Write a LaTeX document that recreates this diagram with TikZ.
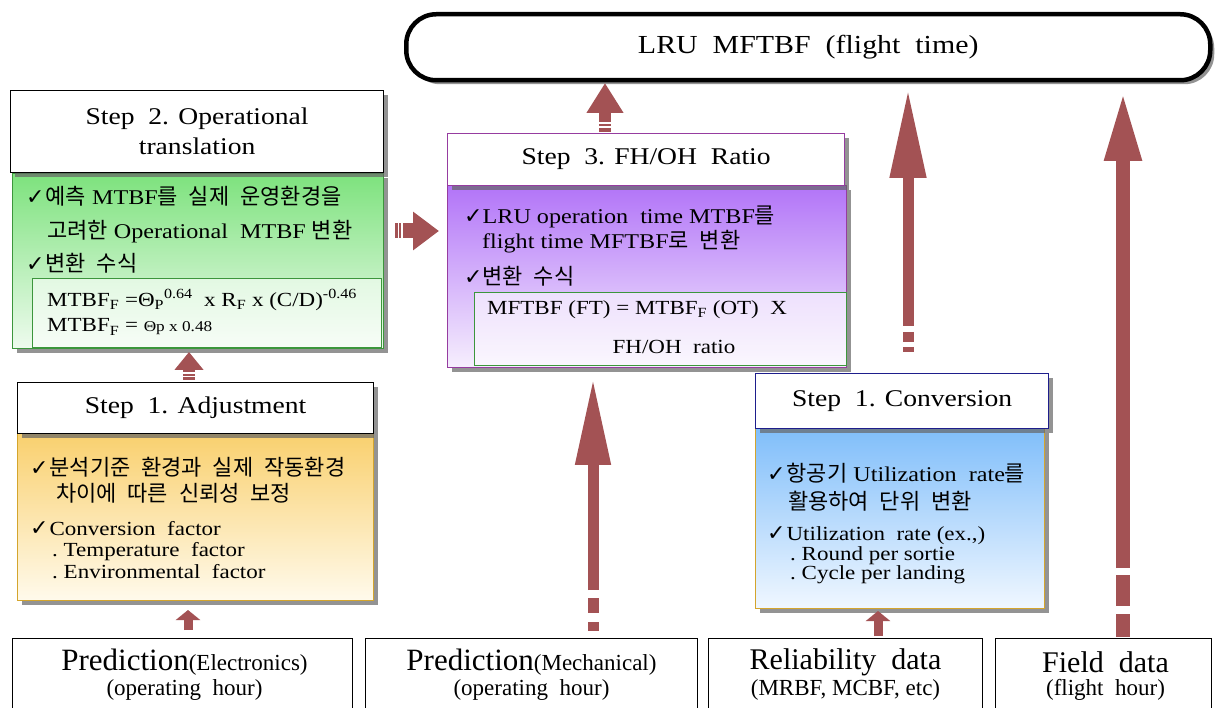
\documentclass[tikz,border=0pt]{standalone}
\usepackage{fontspec}
\setmainfont{Liberation Serif}
\newfontfamily\wide{Liberation Serif}[FakeStretch=1.15]
\newfontfamily\kr{Noto Sans CJK KR}[WordSpace=2.2]
\newfontfamily\sym{DejaVu Sans}
\usetikzlibrary{arrows.meta,shadows,calc}
\definecolor{arr}{RGB}{163,82,84}
\definecolor{gtop}{RGB}{125,226,125}
\definecolor{gbot}{RGB}{238,251,238}
\definecolor{gbrd}{RGB}{60,150,60}
\definecolor{otop}{RGB}{249,208,110}
\definecolor{obot}{RGB}{255,250,236}
\definecolor{obrd}{RGB}{212,165,45}
\definecolor{ptop}{RGB}{178,116,248}
\definecolor{pbot}{RGB}{246,239,253}
\definecolor{pbrd}{RGB}{150,60,160}
\definecolor{btop}{RGB}{128,190,250}
\definecolor{bbot}{RGB}{240,247,255}
\definecolor{bbrd}{RGB}{30,30,140}
\newcommand\kor[1]{{\kr\fontsize{22}{24}\selectfont #1}}
\newcommand\ckm{\smash{\sym\bfseries\fontsize{22}{22}\selectfont ✓}}
\begin{document}
\begin{tikzpicture}[x=1pt,y=-1pt,
  shad/.style={drop shadow={shadow xshift=4pt,shadow yshift=-4pt,fill=black!60,opacity=.7}},
  box/.style={draw,inner sep=0pt,anchor=north west,shad},
  header/.style={box,fill=white,line width=1.2pt,align=center,font=\wide\fontsize{24}{30}\selectfont},
  body/.style={box,line width=1.2pt},
  inbox/.style={draw=gbrd,line width=1pt,inner sep=0pt,anchor=north west,fill=white,fill opacity=.55},
  txt/.style={anchor=west,inner sep=0pt,font=\wide\fontsize{21}{24}\selectfont},
  small/.style={anchor=west,inner sep=0pt,font=\wide\fontsize{20}{22}\selectfont},
  src/.style={draw,line width=1pt,fill=white,inner sep=0pt,anchor=north west,minimum height=80pt},
  srct/.style={inner sep=0pt,font=\fontsize{23}{25}\selectfont},
  stripe/.style={draw=white,line width=1.1pt},
  dash/.style={draw=arr,line width=#1}
]
\useasboundingbox[fill=white] (0,0) rectangle (1216,708);

% ---------- top box
\node[draw,line width=4.5pt,rounded corners=30pt,fill=white,anchor=north west,
  minimum width=804pt,minimum height=66pt,shad,
  font=\wide\fontsize{26}{30}\selectfont] (lru) at (404,12) {LRU\ \ MFTBF\ \ (flight\ \ time)};

% ---------- Step 2
\node[body,draw=gbrd,top color=gtop,bottom color=gbot,minimum width=371pt,minimum height=175pt] (s2body) at (12,173) {};
\node[header,minimum width=373pt,minimum height=82pt] (s2head) at (10,90) {Step\ \ 2. Operational\\translation};
\node[txt] (s2a) at (26,196) {\ckm\hspace{1pt}\kor{예측} MTBF\kor{를 실제 운영환경을}};
\node[txt] (s2b) at (47,232) {\kor{고려한} Operational\ \ MTBF \kor{변환}};
\node[txt] (s2c) at (26,263) {\ckm\hspace{1pt}\kor{변환 수식}};
\node[inbox,minimum width=349pt,minimum height=69pt] (s2in) at (32,278) {};
\node[small] (s2f1) at (47,300) {MTBF\textsubscript{F} =Θ\textsubscript{P}\textsuperscript{0.64}\ \ x R\textsubscript{F} x (C/D)\textsuperscript{-0.46}};
\node[small] (s2f2) at (47,327) {MTBF\textsubscript{F} = {\fontsize{15}{15}\selectfont Θp x 0.48}};

% ---------- Step 1 Adjustment
\node[body,draw=obrd,top color=otop,bottom color=obot,minimum width=356pt,minimum height=167pt] (adjbody) at (17,433) {};
\node[header,minimum width=356pt,minimum height=51pt] (adjhead) at (17,382) {Step\ \ 1. Adjustment};
\node[txt] (adja) at (30,467) {\ckm\hspace{1pt}\kor{분석기준 환경과 실제 작동환경}};
\node[txt] (adjb) at (56,493) {\kor{차이에 따른 신뢰성 보정}};
\node[small] (adjc) at (30,529) {\ckm\hspace{1pt}Conversion\ \ factor};
\node[small] (adjd) at (52,552) {.\ Temperature\ \ factor};
\node[small] (adje) at (52,572) {.\ Environmental\ \ factor};

% ---------- Step 3
\node[body,draw=pbrd,top color=ptop,bottom color=pbot,minimum width=399pt,minimum height=182pt] (s3body) at (447,185) {};
\node[header,draw=pbrd,minimum width=397pt,minimum height=52pt] (s3head) at (447,133) {Step\ \ 3. FH/OH\ \ Ratio};
\node[txt] (s3a) at (464,217) {\ckm\hspace{0pt}LRU operation\ \ time MTBF\kor{를}};
\node[txt] (s3b) at (482,242) {flight time MFTBF\kor{로 변환}};
\node[txt] (s3c) at (464,276) {\ckm\hspace{0pt}\kor{변환 수식}};
\node[inbox,minimum width=372pt,minimum height=73pt] (s3in) at (474,292) {};
\node[small] (s3f1) at (487,310) {MFTBF (FT)\ =\ MTBF\textsubscript{F} (OT)\ \ X};
\node[small,anchor=center] (s3f2) at (674,347) {FH/OH\ \ ratio};

% ---------- Step 1 Conversion
\node[body,draw=obrd,top color=btop,bottom color=bbot,minimum width=289pt,minimum height=180pt] (cvbody) at (755,428) {};
\node[header,draw=bbrd,minimum width=293pt,minimum height=55pt] (cvhead) at (755,373) {Step\ \ 1. Conversion};
\node[txt] (cva) at (767,473) {\ckm\hspace{1pt}\kor{항공기} Utilization\ \ rate\kor{를}};
\node[txt] (cvb) at (788,501) {\kor{활용하여 단위 변환}};
\node[small] (cvc) at (767,536) {\ckm\hspace{1pt}Utilization\ \ rate (ex.,)};
\node[small] (cvd) at (790,556) {.\ Round per sortie};
\node[small] (cve) at (790,575) {.\ Cycle per landing};

% ---------- source boxes
\node[src,minimum width=340pt] (elec) at (12,638) {};
\node[src,minimum width=332pt] (mech) at (365,638) {};
\node[src,minimum width=274pt] (rel) at (708,638) {};
\node[src,minimum width=216pt] (field) at (995,638) {};
\node[srct] (elec1) at ($(elec.north)+(2,24)$) {{\fontsize{31}{30}\selectfont Prediction}{\fontsize{23}{25}\selectfont(Electronics)}};
\node[srct] (elec2) at ($(elec.north)+(2,52)$) {(operating\ \ hour)};
\node[srct] (mech1) at ($(mech.north)+(0,24)$) {{\fontsize{31}{30}\selectfont Prediction}{\fontsize{23}{25}\selectfont(Mechanical)}};
\node[srct] (mech2) at ($(mech.north)+(0,52)$) {(operating\ \ hour)};
\node[srct] (rel1) at ($(rel.north)+(0,24)$) {{\fontsize{30}{30}\selectfont Reliability\ \ data}};
\node[srct] (rel2) at ($(rel.north)+(0,52)$) {(MRBF, MCBF, etc)};
\node[srct] (field1) at ($(field.north)+(2,24)$) {{\fontsize{30}{30}\selectfont Field\ \ data}};
\node[srct] (field2) at ($(field.north)+(2,52)$) {(flight\ \ hour)};

% ---------- arrows
% Electronics -> Adjustment
\coordinate (aA0) at (188,630); \coordinate (aA1) at (188,610);
\draw[arr,line width=9pt,-{Triangle[length=10pt,width=24pt]}] (aA0) -- (aA1);
% Adjustment -> Step 2
\coordinate (aB0) at (189,380); \coordinate (aB1) at (189,352);
\draw[arr,line width=12pt,-{Triangle[length=18pt,width=28pt]}] (aB0) -- (aB1);
\draw[stripe] (183,373) -- (195,373) (183,376.5) -- (195,376.5);
% Step 2 -> Step 3
\coordinate (aC0) at (395,231); \coordinate (aC1) at (439,231);
\draw[arr,line width=15pt,-{Triangle[length=26pt,width=37pt]}] (aC0) -- (aC1);
\draw[stripe] (398.5,223.5) -- (398.5,238.5) (402,223.5) -- (402,238.5);
% Step 3 -> LRU
\coordinate (aD0) at (605,132); \coordinate (aD1) at (605,83);
\draw[arr,line width=12pt,-{Triangle[length=30pt,width=35pt]}] (aD0) -- (aD1);
\draw[stripe] (599,123) -- (611,123) (599,127) -- (611,127);
% Reliability -> Conversion
\coordinate (aE0) at (878,636); \coordinate (aE1) at (878,611);
\draw[arr,line width=9pt,-{Triangle[length=10pt,width=24pt]}] (aE0) -- (aE1);
% Mechanical -> Step 3
\coordinate (aM0) at (593,590); \coordinate (aM1) at (593,378);
\draw[arr,line width=11pt,-{Triangle[length=87pt,width=33pt]}] (aM0) -- (aM1);
\draw[dash=11pt] (593,598) -- (593,613) (593,622) -- (593,631);
% Conversion -> LRU
\coordinate (aV0) at (908,326); \coordinate (aV1) at (908,89);
\draw[arr,line width=11pt,-{Triangle[length=89pt,width=34pt]}] (aV0) -- (aV1);
\draw[dash=11pt] (908,332) -- (908,342) (908,347) -- (908,352);
% Field -> LRU
\coordinate (aF0) at (1123,568); \coordinate (aF1) at (1123,91);
\draw[arr,line width=14pt,-{Triangle[length=70pt,width=34pt]}] (aF0) -- (aF1);
\draw[dash=14pt] (1123,575) -- (1123,606) (1123,614) -- (1123,637);
\end{tikzpicture}
\end{document}
